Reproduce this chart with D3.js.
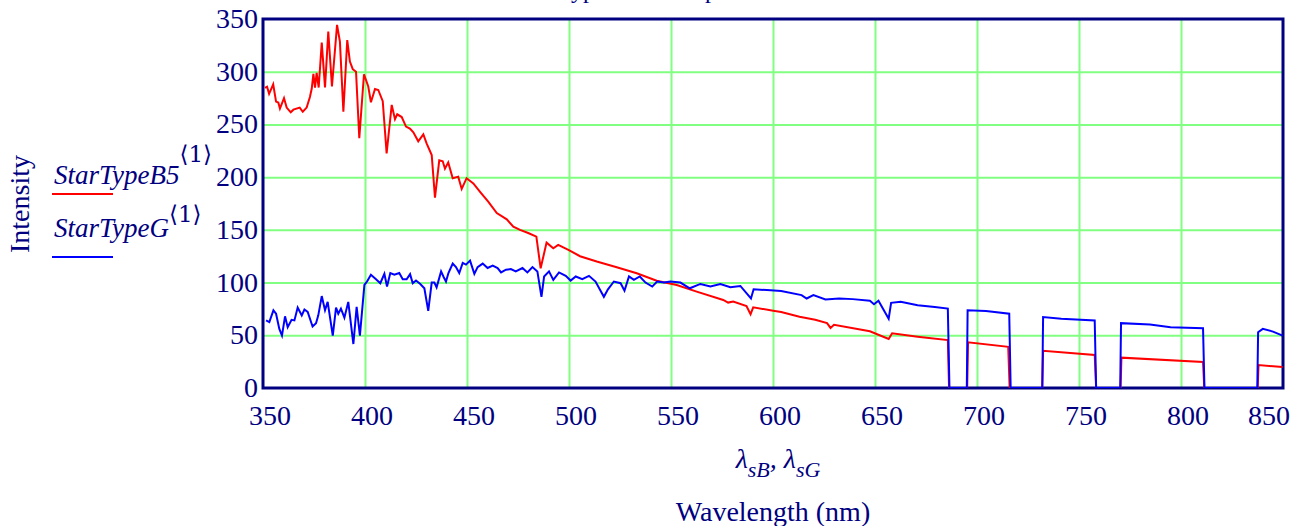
<!DOCTYPE html>
<meta charset="utf-8">
<style>
    body { margin: 0; background: #ffffff; }
    text { font-family: "Liberation Serif", "Times New Roman", serif; fill: #000080; }
    .grid line { stroke: #80ff80; stroke-width: 2px; }
    .grid path { display: none; }
</style>
<body>
<svg width="1316" height="526"></svg>
<script src="https://cdn.jsdelivr.net/npm/d3@7"></script>
<script>
    // tick values
    var xTicks = [350, 400, 450, 500, 550, 600, 650, 700, 750, 800, 850]
    var yTicks = [0, 50, 100, 150, 200, 250, 300, 350]

    // StarTypeB5 <1> : wavelength (nm) and intensity
    var b5Wave = [351, 352, 353, 355, 356.4, 357.5, 358.3, 360.3, 361.6, 363.6, 364.9, 368, 369.5, 371.4, 373, 373.9,
        374.7, 375.5, 376.3, 377.3, 378.8, 380.4, 382, 383.8, 386.3, 387.7, 389.4, 391.3, 392.6, 394, 395.6, 397.2,
        399.5, 401.6, 402.9, 404.9, 406.5, 408.7, 410.6, 413.1, 414.7, 415.8, 418, 420.1, 422, 423.7, 426.1, 428.6,
        430.2, 432.7, 434.3, 436.4, 438.1, 439.2, 440.8, 443, 445.7, 447.4, 449.8, 453.1, 456.4, 460.4, 464.6, 469.5,
        472.7, 476, 480, 484, 486.1, 489, 492.3, 494.7, 499.7, 505.4, 513.6, 523.4, 533.2, 543, 552.8, 562.6, 575.6,
        578, 580.5, 587, 589, 590.3, 600.1, 604, 613, 620.7, 626.5, 628.2, 629.9, 647.5, 656.7, 658.4, 670.9, 685.7,
        686.3, 695.2, 695.6, 715.3, 716, 732, 732.4, 757.7, 758.4, 770.4, 770.8, 810.8, 811.4, 837.6, 838, 849.8]
    var b5Int = [284.6, 285.8, 279, 288, 271.6, 270.7, 265, 275, 266, 261.5, 264, 266, 262, 266, 276, 284,
        298, 285, 299, 285, 327.6, 285, 338, 286, 344.4, 328.5, 262, 330, 309.6, 302.4, 300, 237,
        297.6, 286, 271, 283.6, 282.7, 272, 222.6, 268.5, 255, 259.6, 257, 248, 246, 242.5, 234, 240.6,
        232, 221, 180.5, 216, 215, 208, 214, 199, 200.5, 188.8, 199, 194, 186, 176.7, 166, 160,
        153, 150, 147, 143.5, 113.5, 137.9, 132.5, 135.7, 131, 125, 120, 114.5, 108.8, 101.8, 97.7, 91.4, 83.5,
        81, 82, 77.8, 70, 76.5, 73.3, 72, 67.5, 64.7, 61.5, 57, 60, 53.8, 46.5, 51.9, 48.7, 45.5,
        0, 0, 43.3, 39.1, 0, 0, 35.3, 31.4, 0, 0, 28.8, 24.7, 0, 0, 21.8, 19.9]

    // StarTypeG <1>
    var gWave = [351.5, 353.1, 355.1, 356.4, 358, 359.3, 360.8, 362.1, 364, 365.4, 367, 369, 370.3, 371.9, 374.3, 376,
        377.1, 378.8, 380.4, 381.7, 384.2, 385.8, 386.9, 388.2, 389.9, 391.8, 394.3, 395.9, 397.5, 399.7, 401, 402.9,
        405.4, 407.5, 409.5, 410.8, 412.4, 414.4, 416.8, 418.5, 420.4, 422.1, 423.4, 425, 427.1, 429.1, 431, 432.7,
        434, 435.1, 437.3, 438.6, 439.7, 440.9, 443, 444.6, 446.2, 447.9, 449.5, 451.5, 453.6, 455.2, 457.7, 460.1,
        462.6, 465, 466.7, 469.1, 471.5, 473.9, 477.2, 479.6, 482.1, 484.5, 486.5, 487.8, 490.2, 492.3, 495.1, 498.4,
        500.8, 503.3, 506.5, 509.8, 513, 517.1, 519.1, 522, 525.3, 527.2, 529.4, 531.8, 534.7, 537.5, 540.8, 543.2,
        546.5, 549.7, 554.6, 559.2, 564.4, 569.3, 574.2, 579.1, 584, 589.2, 590.5, 597, 604, 614, 616.5, 619.8,
        625.7, 632.4, 639.1, 647.5, 649.5, 651.7, 656.7, 657.9, 662.6, 670.9, 679.3, 685.7, 686.5, 695, 695.4, 704.4,
        715.8, 716.5, 732, 732.4, 741.3, 757.7, 758.4, 770.2, 770.6, 784.8, 794.9, 810.8, 811.5, 837.4, 837.8, 840.1,
        845.1, 849.8]
    var gInt = [64.1, 62.5, 73.7, 70.5, 56, 49.7, 68, 57.7, 64.7, 64.1, 76.3, 68.9, 74.4, 72.1, 58.3, 61.5,
        68.9, 87.2, 73.7, 81.7, 49.7, 76.3, 70.5, 75.3, 66.7, 81.7, 41.7, 76.9, 49.7, 97.8, 101, 107.4,
        103.2, 99.4, 108.3, 96.2, 109, 107.4, 109, 103.2, 103.2, 108, 99.4, 101.9, 98.7, 94.6, 73.1, 100,
        100, 95.5, 110.6, 105.1, 101, 109, 118, 114.7, 109, 118.6, 117, 120.8, 108.3, 114.7, 118, 113.8,
        116, 113.8, 109.6, 112.2, 112.8, 110.6, 113.8, 109.6, 114.7, 110.6, 86.5, 105.8, 110.6, 102.6, 109.6, 106.4,
        101.9, 105.8, 103.2, 106.4, 101, 86.5, 93.6, 101, 99.4, 92.3, 105.8, 102.6, 105.8, 100, 96.2, 101,
        100, 101, 100, 94.6, 98.7, 96.2, 98.7, 95.5, 96.8, 84.9, 93.6, 92.9, 92, 88.1, 84.9, 88.1,
        84, 84.9, 84.3, 82.7, 79.5, 82.7, 65.7, 80.8, 81.7, 78.5, 76.9, 75.3, 0, 0, 73.7, 73.1,
        70.5, 0, 0, 67.3, 65.7, 64.1, 0, 0, 61.5, 60.3, 57.7, 56.7, 0, 0, 52.9, 56.1,
        53.5, 49.7]

    var svg = d3.select("svg")
    var plotL = 263, plotR = 1283, plotT = 19, plotB = 388

    var x = d3.scaleLinear().domain([350, 850]).range([plotL, plotR])
    var y = d3.scaleLinear().domain([0, 350]).range([plotB, plotT])

    // title, mostly above the top edge of the picture
    svg.append("text")
        .attr("x", 558).attr("y", -2)
        .style("font-size", "24px")
        .text("Types of Star Spectra")

    // grid
    svg.append("g").attr("class", "grid")
        .attr("transform", `translate(0,${plotB})`)
        .call(d3.axisBottom(x).tickValues(xTicks.slice(1, -1)).tickSize(-(plotB - plotT)).tickFormat(""))
    svg.append("g").attr("class", "grid")
        .attr("transform", `translate(${plotL},0)`)
        .call(d3.axisLeft(y).tickValues(yTicks.slice(1, -1)).tickSize(-(plotR - plotL)).tickFormat(""))

    // frame (under the traces, the zero runs sit on it)
    svg.append("rect")
        .attr("x", plotL).attr("y", plotT).attr("width", plotR - plotL).attr("height", plotB - plotT)
        .attr("fill", "none").attr("stroke", "#000080").attr("stroke-width", 3)

    svg.append("clipPath").attr("id", "plot")
        .append("rect").attr("x", plotL).attr("y", plotT - 2).attr("width", plotR - plotL + 1).attr("height", plotB - plotT + 2)

    var line = d3.line()
        .x(function(d) { return x(d[0]) })
        .y(function(d) { return y(d[1]) })

    svg.append("path")
        .datum(b5Wave.map(function(w, i) { return [w, b5Int[i]] }))
        .attr("d", line)
        .attr("clip-path", "url(#plot)")
        .attr("fill", "none").attr("stroke", "#ff0000").attr("stroke-width", 2)

    svg.append("path")
        .datum(gWave.map(function(w, i) { return [w, gInt[i]] }))
        .attr("d", line)
        .attr("clip-path", "url(#plot)")
        .attr("fill", "none").attr("stroke", "#0000ff").attr("stroke-width", 2)

    // tick labels
    svg.selectAll("text.ylab")
        .data(yTicks)
        .enter().append("text")
        .attr("class", "ylab")
        .attr("x", plotL - 5)
        .attr("y", function(d) { return y(d) + 9 })
        .attr("text-anchor", "end")
        .style("font-size", "28px")
        .text(function(d) { return d })

    svg.selectAll("text.xlab")
        .data(xTicks)
        .enter().append("text")
        .attr("class", "xlab")
        .attr("x", function(d) { return Math.min(x(d) + 7, plotR - 14) })
        .attr("y", 425)
        .attr("text-anchor", "middle")
        .style("font-size", "28px")
        .text(function(d) { return d })

    // axis titles
    svg.append("text")
        .attr("transform", "translate(29,204) rotate(-90)")
        .attr("text-anchor", "middle")
        .style("font-size", "28px")
        .text("Intensity")

    var xt = svg.append("text")
        .attr("x", 778).attr("y", 468)
        .attr("text-anchor", "middle")
        .style("font-size", "28px")
        .style("font-style", "italic")
    xt.append("tspan").text("λ")
    xt.append("tspan").attr("dy", 9).style("font-size", "22px").text("sB")
    xt.append("tspan").attr("dy", -9).text(", λ")
    xt.append("tspan").attr("dy", 9).style("font-size", "22px").text("sG")

    svg.append("text")
        .attr("x", 773).attr("y", 521)
        .attr("text-anchor", "middle")
        .style("font-size", "28px")
        .text("Wavelength (nm)")

    // legend
    var legend = [
        {name: "StarTypeB5", color: "#ff0000", base: 184, sup: 162, line: 194},
        {name: "StarTypeG", color: "#0000ff", base: 237, sup: 222, line: 257}
    ]
    legend.forEach(function(l) {
        var t = svg.append("text")
            .attr("x", 54).attr("y", l.base)
            .style("font-size", "27px")
        t.append("tspan").style("font-style", "italic").text(l.name)
        t.append("tspan").attr("y", l.sup).style("font-size", "23px")
            .style("font-family", "'DejaVu Serif', serif").text("⟨1⟩")
        svg.append("line")
            .attr("x1", 52).attr("x2", 113)
            .attr("y1", l.line).attr("y2", l.line)
            .attr("stroke", l.color).attr("stroke-width", 2)
    })
</script>
</body>
